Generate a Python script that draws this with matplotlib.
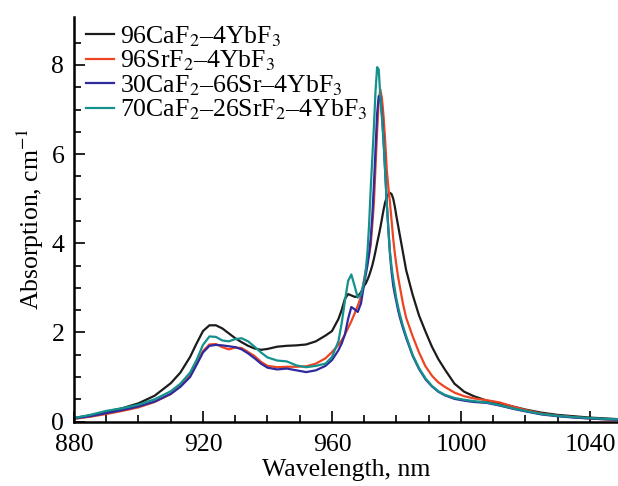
import matplotlib
matplotlib.use("Agg")
import matplotlib.pyplot as plt
from matplotlib.ticker import MultipleLocator, FixedLocator

plt.rcParams['font.family'] = ['Liberation Serif', 'DejaVu Serif']
plt.rcParams['mathtext.fontset'] = 'stix'

wavelength = [880, 885, 890, 895, 900, 905, 910, 913, 916, 918, 920, 922, 924, 926, 928,
              930, 932, 934, 936, 938, 940, 943, 946, 949, 952, 955, 958, 960, 962, 963,
              964, 965, 966, 967, 968, 969,
              970, 970.5, 971, 971.5, 972, 972.5, 973, 973.5, 974, 974.5, 975, 975.5,
              976, 976.5, 977, 977.5, 978, 978.5, 979, 979.5, 980, 980.5, 981,
              982, 983, 985, 987, 989, 991, 993, 995, 998, 1001, 1004, 1008,
              1012, 1016, 1020, 1025, 1030, 1035, 1040, 1045, 1050]

caf2 = [0.08, 0.14, 0.22, 0.30, 0.41, 0.58, 0.86, 1.1, 1.45, 1.75, 2.03, 2.16, 2.16, 2.09, 1.98,
        1.87, 1.78, 1.7, 1.64, 1.61, 1.63, 1.68, 1.7, 1.71, 1.73, 1.8, 1.93, 2.03, 2.3, 2.5,
        2.75, 2.86, 2.83, 2.8, 2.8, 2.9,
        3.05, 3.1, 3.18, 3.27, 3.38, 3.5, 3.65, 3.82, 4.0, 4.17, 4.35, 4.55,
        4.75, 4.92, 5.03, 5.1, 5.13, 5.1, 5.0, 4.82, 4.6, 4.4, 4.2,
        3.8, 3.4, 2.85, 2.38, 2.02, 1.68, 1.4, 1.17, 0.85, 0.67, 0.57, 0.47,
        0.41, 0.34, 0.27, 0.2, 0.15, 0.12, 0.09, 0.07, 0.05]

srf2 = [0.06, 0.11, 0.17, 0.24, 0.32, 0.44, 0.62, 0.8, 1.03, 1.3, 1.58, 1.73, 1.74, 1.67, 1.62,
        1.66, 1.65, 1.56, 1.47, 1.34, 1.25, 1.22, 1.23, 1.23, 1.24, 1.3, 1.42, 1.56, 1.72, 1.82,
        1.95, 2.1, 2.25, 2.42, 2.6, 2.8,
        3.2, 3.4, 3.6, 3.75, 3.95, 4.4, 4.9, 5.7, 6.5, 7.2, 7.45, 7.25,
        6.85, 6.3, 5.64, 5.25, 4.9, 4.5, 4.1, 3.77, 3.5, 3.25, 3.05,
        2.65, 2.33, 1.92, 1.55, 1.24, 1.03, 0.88, 0.78, 0.65, 0.57, 0.52, 0.48,
        0.43, 0.34, 0.26, 0.18, 0.13, 0.1, 0.07, 0.05, 0.04]

mix30 = [0.07, 0.12, 0.19, 0.26, 0.34, 0.45, 0.62, 0.78, 1.0, 1.27, 1.55, 1.7, 1.72, 1.71, 1.69,
         1.67, 1.62, 1.53, 1.42, 1.3, 1.21, 1.17, 1.19, 1.15, 1.11, 1.15, 1.25, 1.38, 1.6, 1.75,
         1.95, 2.3, 2.57, 2.52, 2.46, 2.65,
         3.1, 3.3, 3.5, 3.75, 4.1, 4.6, 5.3, 6.1, 6.9, 7.3, 7.3, 6.9,
         6.3, 5.6, 4.9, 4.3, 3.75, 3.35, 3.05, 2.85, 2.68, 2.5, 2.35,
         2.1, 1.88, 1.48, 1.18, 0.95, 0.79, 0.67, 0.59, 0.51, 0.47, 0.44, 0.42,
         0.36, 0.29, 0.23, 0.16, 0.12, 0.09, 0.07, 0.05, 0.04]

mix70 = [0.08, 0.15, 0.24, 0.3, 0.38, 0.5, 0.68, 0.85, 1.1, 1.38, 1.72, 1.91, 1.9, 1.82, 1.8,
         1.85, 1.87, 1.8, 1.68, 1.55, 1.44, 1.37, 1.35, 1.26, 1.22, 1.25, 1.3, 1.45, 1.8, 2.2,
         2.7, 3.15, 3.3, 3.05, 2.78, 2.85,
         3.15, 3.4, 3.8, 4.4, 5.2, 5.9, 6.6, 7.4, 7.95, 7.9, 7.3, 6.8,
         6.3, 5.6, 4.9, 4.3, 3.8, 3.45, 3.2, 2.97, 2.75, 2.58, 2.42,
         2.15, 1.92, 1.5, 1.2, 0.97, 0.8, 0.68, 0.6, 0.53, 0.49, 0.46, 0.43,
         0.37, 0.3, 0.24, 0.17, 0.13, 0.1, 0.08, 0.06, 0.05]

labels = [r'96CaF$_2$–4YbF$_3$', r'96SrF$_2$–4YbF$_3$',
          r'30CaF$_2$–66Sr–4YbF$_3$', r'70CaF$_2$–26SrF$_2$–4YbF$_3$']
colors = ['#1c1c1c', '#ee4422', '#2e2a9e', '#14918c']
series = [caf2, srf2, mix30, mix70]

fig = plt.figure(figsize=(6.18, 4.86), dpi=100)
ax = fig.add_axes([0.1197, 0.1325, 0.8803, 0.833])

for y, c, lab in zip(series, colors, labels):
    ax.plot(wavelength, y, color=c, lw=1.6, label=lab, solid_joinstyle='round')

ax.set_xlim(880, 1048.7)
ax.set_ylim(0, 9.08)
ax.xaxis.set_major_locator(MultipleLocator(40))
ax.xaxis.set_minor_locator(MultipleLocator(10))
ax.yaxis.set_major_locator(MultipleLocator(2))
ax.yaxis.set_minor_locator(FixedLocator([0.5 * i for i in range(1, 18)]))

for s in ['top', 'right']:
    ax.spines[s].set_visible(False)
for s in ['left', 'bottom']:
    ax.spines[s].set_linewidth(1.8)

ax.tick_params(axis='both', which='major', direction='in', length=8, width=1.2,
               labelsize=18.5)
ax.tick_params(axis='x', which='major', pad=9)
ax.tick_params(axis='y', which='major', pad=7)
ax.tick_params(axis='both', which='minor', direction='in', length=5, width=1.2)

ax.set_xlabel('Wavelength, nm', fontsize=18.5, labelpad=2)
ax.set_ylabel(r'Absorption, cm$^{-1}$', fontsize=18.5, labelpad=4)

leg = ax.legend(loc='upper left', bbox_to_anchor=(0.012, 0.995), frameon=False,
                fontsize=18.5, handlelength=1.1, handletextpad=0.25,
                labelspacing=0.0, borderpad=0.1, borderaxespad=0.1)

fig.savefig('out.png', dpi=100)
